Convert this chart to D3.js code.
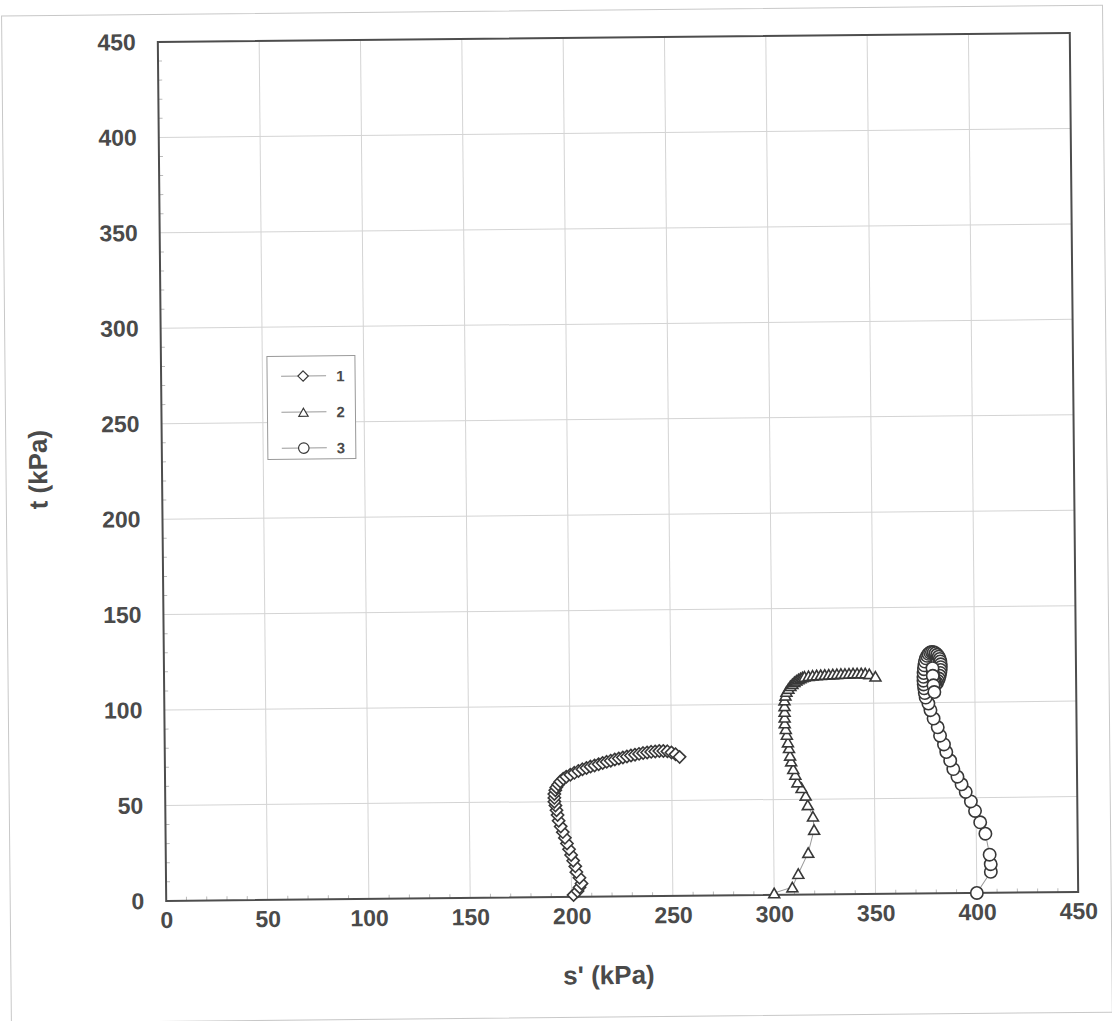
<!DOCTYPE html>
<html><head><meta charset="utf-8">
<script src="https://cdn.jsdelivr.net/npm/d3@7"></script>
<style>body{margin:0;background:#fff}</style>
</head><body>
<svg id="chart" width="1112" height="1021"></svg>
<script>
// ---- data ----
const xTickValues = [0,50,100,150,200,250,300,350,400,450];
const yTickValues = [0,50,100,150,200,250,300,350,400,450];
const xTitle = "s' (kPa)";
const yTitle = "t (kPa)";
const seriesNames = ["1","2","3"];
const seriesSymbols = ["diamond","triangle","circle"];

const s1S = [201,203,204,205,204,202.5,202,201,200,199,198,197,196,195,194,193.5,193,192.5,192,192,192,192.5,193,194,195,196.5,198,200,202,204,206,208,210,212,214,216,218,220,222,224,226,228,230,232,234,236,238,240,242,244,246,248,250,252,254];
const s1T = [1,3,5,7,10,13,16,19,22,25,28,31,34,37,40,43,45.5,48,50,52,54,56,57.5,59,60.5,62,63,64,65,66,66.8,67.5,68.2,68.8,69.4,70,70.6,71.2,71.8,72.3,72.8,73.3,73.8,74.2,74.6,75,75.3,75.6,75.8,76,76,75.8,75.2,74.2,72.8];

const s2S = [300,309,312,317,320,319.5,317,316,314,312,311,310,309,308.5,308,307.5,307,306.5,306,306,306,306,306,306.5,307,308,309,310,311,312,313,314,315,316,318,320,322,324,326,328,330,332,334,336,338,340,342,344,346,348,351];
const s2T = [1,4,11,22,34,41,47,52,56,59,63,66,70,73,77,80,84,87,90,93,96,99,102,104.5,106.5,108,109.5,110.5,111.5,112.3,113,113.5,114,114.3,114.6,114.8,115,115.1,115.2,115.3,115.4,115.5,115.6,115.6,115.7,115.8,115.8,115.8,115.7,115.3,114];

const s3S = [400,407,407,406.5,404.5,402,399.5,397.5,395,393,391,389,387.5,385.6,384.5,382.6,381.5,379.5,378,377,375.7,375.3,375,374.8,374.7,374.7,374.8,375,375.2,375.5,376,376.6,377.3,378.1,379,379.9,380.8,381.6,382.3,382.8,383.1,383.3,383.3,383.2,383,382.7,382.3,381.8,381.3,380.7,380.2,379.8,379.5,379.3,379.2,379.3,379.6,380];
const s3T = [0,11,15,20,31,37,43,48,53,57,61,65,69.5,74,78,82.6,87,91.6,96,99.5,102.6,105,107.5,109.5,111.5,113.5,115.5,117.5,119.5,121.5,123.2,124.5,125.5,126.2,126.5,126.3,125.8,125,124,122.8,121.5,120,118.5,117,115.5,114,112.5,111.3,110.2,109.5,110.5,112,114,116,118,114,109,105.5];

const seriesData = [
  s1S.map((s,i)=>({s, t:s1T[i]})),
  s2S.map((s,i)=>({s, t:s2T[i]})),
  s3S.map((s,i)=>({s, t:s3T[i]}))
];

// ---- layout ----
const L = 162, R = 1074, T = 37.5, B = 896.5;
const textColor = "#4a4a4a";
const font = "'Liberation Sans', Arial, sans-serif";

const svg = d3.select("#chart");
svg.append("rect").attr("width",1112).attr("height",1021).attr("fill","#fff");
const root = svg.append("g").attr("transform","rotate(-0.56,616,467)");

// outer frame
root.append("rect").attr("x",6).attr("y",10).attr("width",1101).attr("height",1007)
  .attr("fill","none").attr("stroke","#c8c8c8").attr("stroke-width",1);

const x = d3.scaleLinear().domain([0,450]).range([L,R]);
const y = d3.scaleLinear().domain([0,450]).range([B,T]);

// gridlines
const grid = root.append("g");
grid.selectAll("line.v").data(xTickValues.slice(1,-1)).join("line")
  .attr("x1",d=>x(d)).attr("x2",d=>x(d)).attr("y1",T).attr("y2",B)
  .attr("stroke","#d4d4d4").attr("stroke-width",1);
grid.selectAll("line.h").data(yTickValues.slice(1,-1)).join("line")
  .attr("y1",d=>y(d)).attr("y2",d=>y(d)).attr("x1",L).attr("x2",R)
  .attr("stroke","#d4d4d4").attr("stroke-width",1);

// minor inside ticks
const minor = d3.range(10,450,10).filter(v=>v%50!==0);
root.append("g").selectAll("line").data(minor).join("line")
  .attr("x1",d=>x(d)).attr("x2",d=>x(d)).attr("y1",B).attr("y2",B-4)
  .attr("stroke","#bbb").attr("stroke-width",1);
root.append("g").selectAll("line").data(minor).join("line")
  .attr("y1",d=>y(d)).attr("y2",d=>y(d)).attr("x1",L).attr("x2",L+4)
  .attr("stroke","#bbb").attr("stroke-width",1);

// axes via d3
const xAxis = root.append("g").attr("transform",`translate(0,${B})`)
  .call(d3.axisBottom(x).tickValues(xTickValues).tickSize(0).tickPadding(19));
const yAxis = root.append("g").attr("transform",`translate(${L},0)`)
  .call(d3.axisLeft(y).tickValues(yTickValues).tickSize(0).tickPadding(22));
[xAxis,yAxis].forEach(a=>{
  a.select(".domain").remove();
  a.selectAll("text").attr("font-family",font).attr("font-weight","bold")
    .attr("font-size",23).attr("fill",textColor);
});
xAxis.selectAll("text").attr("dy","0.35em").attr("y",19);

// plot frame
root.append("rect").attr("x",L).attr("y",T).attr("width",R-L).attr("height",B-T)
  .attr("fill","none").attr("stroke","#4d4d4d").attr("stroke-width",2);

// axis titles
root.append("text").attr("x",604).attr("y",975).attr("text-anchor","middle")
  .attr("dominant-baseline","central").attr("font-family",font).attr("font-weight","bold")
  .attr("font-size",26).attr("fill",textColor).text(xTitle);
root.append("text").attr("transform","translate(38,464) rotate(-90)").attr("text-anchor","middle")
  .attr("dominant-baseline","central").attr("font-family",font).attr("font-weight","bold")
  .attr("font-size",26).attr("fill",textColor).text(yTitle);

// symbols
const symType = {diamond:d3.symbolDiamond2, triangle:d3.symbolTriangle2, circle:d3.symbolCircle};
const symSize = {diamond:95, triangle:85, circle:120};
function symPath(name){ return d3.symbol().type(symType[name]).size(symSize[name])(); }
const markStroke = "#383838";

const line = d3.line().x(d=>x(d.s)).y(d=>y(d.t));
seriesData.forEach((data,i)=>{
  const g = root.append("g");
  g.append("path").attr("d",line(data)).attr("fill","none")
    .attr("stroke","#9a9a9a").attr("stroke-width",1);
  const sym = seriesSymbols[i];
  g.selectAll("path.m").data(data).join("path").attr("class","m")
    .attr("d",symPath(sym))
    .attr("transform",d=>`translate(${x(d.s)},${y(d.t) + (sym==="triangle"?1.5:0)})`)
    .attr("fill","#fff").attr("stroke",markStroke).attr("stroke-width",1.6);
});

// legend
const lg = root.append("g").attr("transform","translate(268,353)");
lg.append("rect").attr("width",88).attr("height",103).attr("fill","#fff")
  .attr("stroke","#999").attr("stroke-width",1);
seriesNames.forEach((n,i)=>{
  const yy = 20 + i*36;
  const row = lg.append("g").attr("transform",`translate(0,${yy})`);
  row.append("line").attr("x1",14).attr("x2",59).attr("y1",0).attr("y2",0)
    .attr("stroke","#9a9a9a").attr("stroke-width",1);
  row.append("path").attr("d",symPath(seriesSymbols[i]))
    .attr("transform",`translate(36,${seriesSymbols[i]==="triangle"?1.5:0}) scale(0.85)`)
    .attr("fill","#fff").attr("stroke",markStroke).attr("stroke-width",1.4);
  row.append("text").attr("x",69).attr("y",0).attr("dominant-baseline","central")
    .attr("font-family",font).attr("font-weight","bold").attr("font-size",15)
    .attr("fill",textColor).text(n);
});
</script>
</body></html>
